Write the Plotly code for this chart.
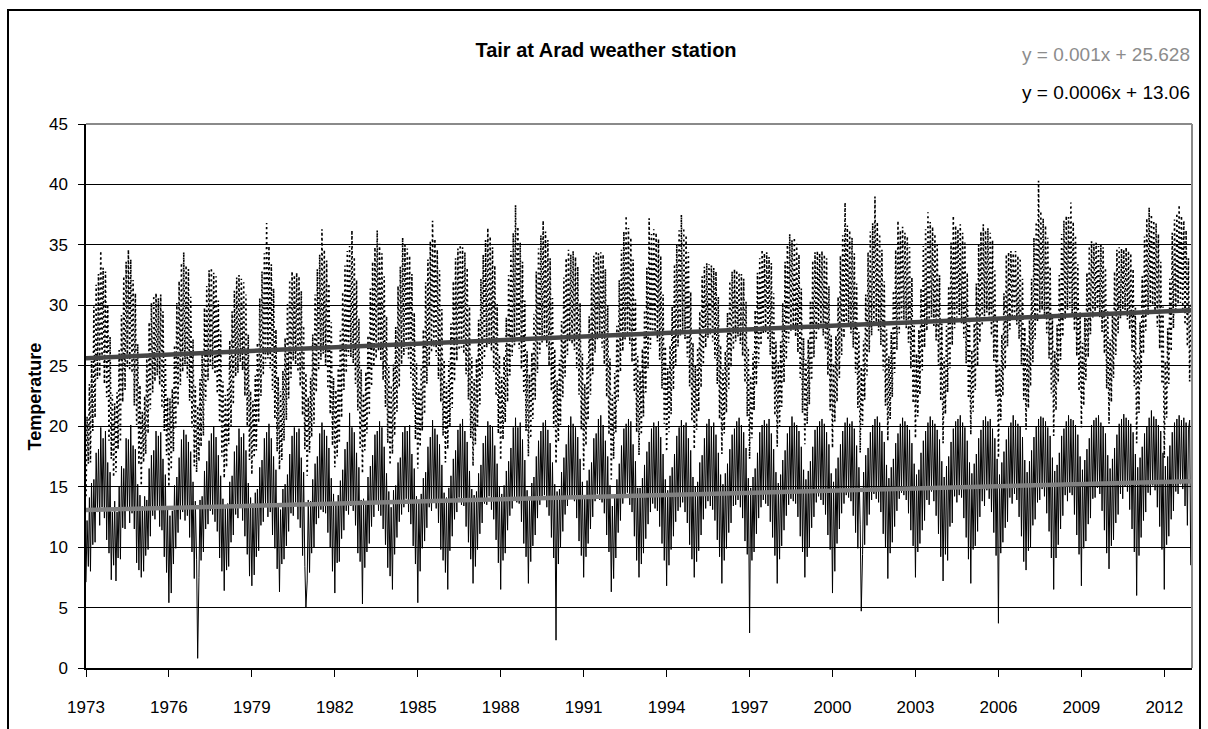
import pandas as pd
import plotly.graph_objects as go

# Half-monthly readings (1st and 15th of each month), 1973-2012, one row per year
tmax = [
 14.2, 20.8, 16.9, 23.5, 17.0, 25.4, 19.6, 29.9, 20.7, 31.7, 23.9, 32.6, 24.1, 34.5, 25.4, 33.1, 23.5, 32.8, 22.4, 30.1, 18.8, 27.4, 17.3, 22.6,
 15.8, 21.9, 16.2, 22.8, 18.1, 26.3, 18.7, 29.2, 22.0, 32.4, 23.0, 33.6, 24.9, 34.6, 24.6, 33.8, 24.4, 32.1, 21.7, 31.0, 20.1, 26.8, 16.8, 23.4,
 15.1, 21.2, 17.0, 22.5, 17.7, 25.8, 19.4, 28.6, 21.4, 30.2, 22.8, 30.8, 23.7, 31.0, 24.2, 30.6, 23.4, 30.9, 21.5, 29.5, 19.6, 26.1, 17.6, 22.4,
 15.0, 22.3, 16.4, 23.1, 17.9, 26.7, 19.9, 30.2, 21.7, 32.0, 23.4, 33.5, 24.5, 34.4, 25.1, 33.3, 24.0, 33.0, 22.1, 30.7, 19.9, 27.2, 16.7, 23.3,
 16.2, 21.7, 17.1, 23.9, 18.3, 26.0, 19.2, 29.8, 22.1, 31.6, 23.8, 32.9, 25.0, 33.1, 24.7, 32.7, 24.3, 32.4, 22.7, 30.4, 20.3, 27.9, 17.5, 23.7,
 15.7, 22.6, 16.6, 23.2, 18.5, 27.1, 20.0, 29.5, 21.8, 31.2, 24.1, 32.3, 24.4, 32.5, 25.3, 32.2, 24.6, 31.9, 22.5, 30.9, 20.0, 27.6, 17.2, 22.9,
 16.0, 22.1, 17.4, 24.2, 18.0, 26.9, 20.3, 30.6, 22.5, 32.8, 24.2, 34.3, 25.2, 36.8, 25.6, 34.9, 24.8, 33.4, 23.0, 31.4, 20.6, 28.0, 17.9, 24.1,
 16.4, 22.9, 17.2, 24.6, 18.8, 27.3, 20.5, 30.1, 22.3, 32.1, 24.0, 32.8, 25.4, 32.5, 25.1, 32.7, 24.5, 32.4, 23.3, 31.2, 20.9, 28.3, 18.1, 24.4,
 15.9, 22.4, 17.8, 24.0, 19.1, 27.6, 20.2, 30.9, 22.8, 33.0, 24.6, 34.2, 25.5, 36.3, 26.0, 34.6, 25.0, 33.7, 23.1, 31.8, 21.0, 28.6, 18.4, 24.0,
 16.6, 23.0, 17.5, 24.8, 18.6, 27.9, 20.7, 31.1, 23.0, 33.3, 24.4, 34.5, 25.8, 34.9, 25.7, 36.2, 25.2, 34.0, 23.5, 32.1, 21.3, 28.9, 18.2, 24.7,
 16.1, 22.7, 18.0, 24.5, 19.4, 27.5, 20.9, 31.4, 23.3, 33.6, 24.9, 34.8, 25.6, 36.2, 26.2, 35.1, 25.4, 34.3, 23.8, 32.4, 21.6, 29.1, 18.6, 24.9,
 16.8, 23.4, 17.7, 25.1, 19.2, 28.2, 21.2, 31.6, 23.2, 33.2, 25.1, 35.6, 25.9, 35.0, 26.4, 34.7, 25.6, 34.1, 24.0, 32.6, 21.8, 29.4, 18.9, 25.2,
 16.5, 23.1, 18.3, 24.9, 19.6, 28.0, 21.0, 31.9, 23.5, 33.8, 25.0, 35.3, 26.1, 37.0, 26.6, 35.5, 25.8, 34.6, 23.9, 32.9, 22.0, 29.7, 19.2, 25.5,
 17.0, 23.6, 18.1, 25.4, 19.9, 28.5, 21.5, 32.0, 23.7, 33.9, 25.4, 34.7, 26.3, 35.0, 26.5, 34.8, 26.0, 34.4, 24.3, 33.1, 22.2, 29.9, 19.0, 25.7,
 16.7, 23.9, 18.5, 25.6, 20.0, 28.8, 21.8, 32.2, 24.0, 34.2, 25.6, 35.4, 26.5, 36.4, 26.8, 35.7, 26.2, 34.8, 24.5, 33.3, 22.5, 30.1, 19.4, 25.9,
 17.2, 24.1, 18.9, 25.8, 20.3, 29.0, 22.0, 32.5, 24.2, 34.5, 25.8, 36.0, 26.7, 38.3, 27.0, 36.5, 26.4, 35.2, 24.7, 33.6, 22.7, 30.4, 19.6, 26.2,
 17.5, 24.3, 19.0, 26.1, 20.6, 29.3, 22.2, 32.8, 24.4, 34.7, 26.0, 35.8, 26.9, 37.0, 27.2, 36.1, 26.6, 35.4, 25.0, 33.9, 22.9, 30.6, 19.9, 26.4,
 16.9, 23.8, 18.7, 25.5, 20.1, 28.7, 22.4, 32.3, 24.1, 33.9, 25.9, 34.6, 27.0, 34.2, 26.8, 34.5, 26.3, 34.0, 24.8, 33.2, 22.6, 30.2, 19.7, 26.0,
 16.4, 23.5, 18.4, 25.2, 20.5, 29.1, 22.6, 32.6, 24.3, 34.1, 26.1, 34.5, 27.1, 34.3, 27.3, 34.4, 26.5, 34.2, 25.1, 33.0, 22.4, 30.0, 19.3, 25.6,
 15.6, 22.6, 17.3, 24.4, 19.5, 28.3, 22.1, 32.1, 24.5, 34.6, 26.2, 36.1, 27.2, 37.4, 27.5, 36.4, 26.8, 35.6, 25.3, 33.8, 22.8, 30.5, 19.5, 25.8,
 17.6, 24.6, 19.3, 26.4, 20.8, 29.6, 22.8, 33.1, 24.8, 37.2, 26.4, 35.9, 27.4, 36.3, 27.6, 36.0, 27.0, 35.5, 25.5, 34.1, 23.1, 30.9, 20.2, 26.6,
 17.9, 24.8, 19.5, 26.7, 21.0, 29.9, 23.0, 33.4, 25.0, 35.1, 26.6, 36.2, 27.5, 37.5, 27.8, 36.4, 27.2, 35.8, 25.7, 34.4, 23.3, 31.1, 20.4, 26.9,
 18.1, 25.0, 19.7, 26.5, 21.2, 29.5, 23.2, 32.4, 25.1, 33.2, 26.5, 33.5, 27.3, 33.4, 27.6, 33.3, 27.0, 33.1, 25.6, 32.8, 23.5, 30.7, 20.6, 26.7,
 17.7, 24.7, 19.4, 26.2, 21.1, 29.4, 23.1, 32.0, 24.9, 32.8, 26.3, 33.0, 27.0, 32.9, 27.4, 32.7, 26.8, 32.6, 25.8, 32.2, 23.6, 30.3, 20.8, 26.5,
 17.3, 24.2, 19.0, 26.0, 21.3, 29.6, 23.4, 32.7, 25.2, 33.9, 26.7, 34.6, 27.6, 34.3, 27.7, 34.4, 27.1, 34.0, 25.9, 33.5, 23.8, 31.0, 20.9, 27.0,
 18.3, 25.3, 20.0, 27.0, 21.6, 30.2, 23.6, 33.6, 25.5, 35.0, 26.9, 35.9, 27.9, 35.4, 28.0, 35.6, 27.4, 35.1, 26.1, 34.2, 24.0, 31.4, 21.1, 27.3,
 18.5, 25.5, 20.2, 27.2, 21.8, 30.4, 23.8, 33.7, 25.7, 34.4, 27.1, 34.5, 28.0, 34.3, 28.2, 34.5, 27.5, 34.2, 26.3, 33.9, 24.2, 31.6, 21.3, 27.5,
 18.2, 25.2, 20.4, 27.5, 22.0, 30.7, 24.0, 34.1, 25.9, 35.8, 27.3, 38.5, 28.2, 36.6, 28.4, 36.2, 27.7, 35.6, 26.5, 34.3, 24.4, 31.8, 21.5, 27.8,
 17.8, 24.9, 20.1, 27.1, 22.2, 30.9, 24.2, 34.4, 26.1, 36.1, 27.5, 36.8, 28.4, 39.0, 28.6, 36.9, 27.9, 35.9, 26.7, 34.6, 24.6, 32.0, 21.7, 28.0,
 18.8, 25.8, 20.6, 27.8, 22.4, 31.2, 24.4, 34.6, 26.3, 37.0, 27.7, 36.2, 28.6, 36.5, 28.8, 36.0, 28.1, 35.7, 26.9, 34.8, 24.8, 32.3, 21.9, 28.3,
 19.0, 26.0, 20.8, 28.0, 22.6, 31.4, 24.6, 34.9, 26.5, 36.3, 27.9, 37.7, 28.8, 36.9, 29.0, 36.5, 28.3, 35.9, 27.1, 35.0, 25.0, 32.5, 22.1, 28.5,
 18.6, 25.7, 21.0, 28.3, 22.8, 31.6, 24.8, 35.2, 26.7, 37.4, 28.1, 36.6, 29.0, 36.3, 29.2, 36.7, 28.5, 36.0, 27.3, 35.2, 25.2, 32.7, 22.3, 28.7,
 19.3, 26.3, 21.2, 28.5, 23.0, 31.8, 25.0, 35.0, 26.9, 36.1, 28.3, 36.7, 29.1, 36.2, 29.4, 36.4, 28.7, 36.0, 27.5, 35.4, 25.4, 32.9, 22.5, 28.9,
 17.4, 25.1, 20.5, 27.6, 22.5, 31.0, 24.7, 34.2, 26.6, 34.4, 28.0, 34.5, 28.9, 34.3, 29.1, 34.5, 28.4, 34.1, 27.2, 33.9, 25.1, 32.2, 22.2, 28.2,
 19.7, 26.7, 21.5, 28.8, 23.3, 32.2, 25.3, 35.6, 27.2, 36.9, 28.6, 40.3, 29.4, 37.8, 29.6, 37.2, 28.9, 36.6, 27.7, 35.6, 25.6, 33.2, 22.7, 29.2,
 19.2, 26.2, 21.3, 28.4, 23.6, 32.5, 25.5, 35.9, 27.4, 37.0, 28.8, 37.4, 29.6, 37.3, 29.8, 38.5, 29.1, 36.9, 27.9, 35.8, 25.8, 33.4, 22.9, 29.4,
 19.9, 26.9, 21.7, 29.0, 23.8, 32.7, 25.7, 34.9, 27.6, 35.3, 29.0, 35.1, 29.5, 35.2, 29.7, 34.9, 29.0, 35.0, 27.8, 34.8, 26.0, 33.1, 23.1, 29.6,
 20.2, 27.2, 22.0, 29.3, 24.0, 32.8, 25.9, 34.6, 27.7, 34.8, 28.9, 34.7, 29.4, 34.6, 29.6, 34.8, 28.8, 34.5, 28.0, 34.3, 26.2, 33.0, 23.3, 29.8,
 18.6, 25.9, 21.1, 28.6, 23.7, 32.4, 26.0, 35.7, 27.9, 37.2, 29.2, 38.1, 29.9, 37.5, 30.0, 37.0, 29.3, 36.8, 28.2, 35.9, 26.4, 33.6, 23.5, 29.9,
 17.4, 25.4, 20.7, 28.1, 23.5, 32.2, 26.2, 36.0, 28.1, 37.1, 29.4, 37.6, 30.1, 38.3, 30.2, 37.4, 29.5, 37.0, 28.4, 36.2, 26.6, 33.9, 23.7, 30.2,
]

tmin = [
 7.1, 12.2, 8.4, 14.1, 8.0, 15.3, 10.2, 15.6, 10.4, 17.8, 12.9, 18.1, 11.8, 19.9, 13.3, 19.0, 12.4, 19.6, 10.6, 17.0, 9.5, 16.2, 7.3, 12.9,
 8.5, 13.8, 7.2, 12.9, 9.1, 15.0, 9.0, 16.7, 11.6, 16.5, 11.5, 19.0, 13.2, 18.9, 12.0, 20.1, 12.8, 18.4, 11.5, 18.1, 8.7, 15.2, 8.1, 14.3,
 7.5, 13.4, 8.0, 14.2, 9.3, 13.9, 9.8, 16.5, 10.9, 17.6, 12.6, 18.0, 12.3, 19.6, 13.1, 19.2, 11.7, 19.5, 11.4, 17.3, 9.2, 16.0, 7.9, 13.1,
 5.4, 12.6, 6.2, 13.0, 8.6, 15.1, 9.9, 15.8, 11.2, 17.4, 12.3, 18.9, 12.9, 19.7, 12.2, 19.3, 12.6, 18.7, 10.8, 17.9, 9.6, 15.4, 7.4, 13.8,
 9.0, 0.8, 7.5, 13.9, 8.9, 14.2, 9.6, 16.3, 11.5, 17.1, 11.9, 18.8, 13.0, 19.4, 12.7, 20.0, 12.1, 19.1, 11.3, 17.6, 9.1, 15.9, 8.0, 14.0,
 6.4, 13.2, 8.1, 13.6, 8.4, 15.4, 10.4, 15.9, 11.0, 17.9, 12.7, 18.4, 12.4, 19.8, 13.5, 19.1, 12.2, 19.4, 10.9, 18.0, 9.4, 15.3, 7.6, 14.1,
 6.8, 13.6, 7.7, 14.5, 9.2, 14.8, 9.7, 16.6, 11.8, 17.2, 12.1, 19.0, 13.4, 19.5, 12.5, 20.2, 12.9, 19.0, 11.0, 17.5, 9.9, 16.4, 8.2, 13.5,
 6.3, 13.1, 8.6, 14.8, 9.0, 15.2, 10.1, 16.0, 11.3, 17.7, 12.8, 19.2, 12.6, 19.9, 13.7, 19.5, 12.3, 19.8, 11.6, 17.4, 9.3, 16.2, 8.4, 5.0,
 7.2, 13.9, 7.9, 13.8, 9.5, 15.6, 10.0, 16.9, 11.9, 17.5, 12.4, 19.4, 13.1, 20.3, 12.9, 19.7, 12.8, 19.2, 11.2, 18.2, 10.0, 15.7, 8.0, 14.4,
 6.2, 13.5, 8.7, 14.3, 8.8, 15.5, 10.7, 16.4, 11.4, 18.1, 13.0, 18.7, 12.7, 21.1, 13.4, 19.9, 13.0, 19.5, 11.8, 17.8, 9.5, 16.6, 8.8, 13.9,
 5.3, 14.0, 8.3, 13.7, 9.6, 15.8, 10.3, 16.7, 11.7, 17.6, 12.5, 19.3, 13.6, 19.6, 13.0, 20.4, 12.6, 19.9, 11.5, 18.3, 10.2, 16.1, 8.3, 14.6,
 7.6, 13.3, 6.5, 14.7, 9.4, 15.1, 10.8, 17.0, 12.1, 17.4, 12.7, 19.5, 13.3, 20.0, 14.0, 19.6, 12.9, 20.1, 11.9, 17.7, 10.1, 16.5, 8.6, 14.2,
 5.4, 13.8, 8.0, 14.4, 9.9, 15.7, 10.5, 16.2, 11.6, 18.3, 13.3, 19.1, 13.0, 20.5, 13.8, 19.8, 13.2, 19.3, 12.0, 18.5, 9.8, 16.8, 8.9, 14.5,
 7.9, 14.1, 6.5, 14.9, 9.7, 15.9, 10.9, 17.3, 12.3, 18.0, 12.9, 19.7, 14.1, 20.2, 13.5, 20.6, 13.4, 19.6, 11.7, 18.7, 10.4, 16.3, 9.0, 14.8,
 7.0, 14.3, 8.4, 14.6, 9.8, 16.1, 11.1, 16.8, 12.0, 18.6, 13.6, 19.2, 13.5, 20.4, 14.2, 20.1, 13.1, 20.0, 12.3, 18.4, 10.6, 16.9, 8.7, 15.0,
 6.5, 14.4, 8.9, 15.1, 9.5, 16.3, 11.4, 17.1, 12.6, 18.2, 13.2, 19.9, 14.0, 20.7, 13.7, 19.9, 13.6, 20.3, 12.1, 18.9, 10.3, 17.2, 9.2, 14.7,
 7.0, 14.0, 8.8, 15.3, 10.1, 15.8, 11.0, 17.5, 12.4, 18.8, 13.5, 19.6, 13.9, 20.3, 14.3, 20.5, 13.3, 19.7, 12.6, 18.6, 10.8, 17.0, 9.1, 15.2,
 2.3, 14.6, 8.6, 14.8, 10.0, 16.2, 11.3, 17.4, 12.7, 18.5, 13.4, 20.1, 14.2, 20.8, 14.0, 20.2, 13.8, 19.9, 12.4, 19.1, 10.5, 17.3, 9.3, 15.4,
 7.5, 14.2, 9.2, 15.5, 10.3, 16.4, 11.5, 17.0, 12.5, 19.0, 13.8, 19.4, 14.4, 20.6, 13.9, 20.9, 13.7, 20.1, 12.8, 18.8, 11.0, 17.5, 9.6, 15.1,
 6.3, 13.4, 7.4, 14.2, 9.1, 15.6, 11.2, 16.9, 12.2, 18.4, 13.6, 19.8, 14.1, 20.2, 14.5, 20.6, 13.5, 20.4, 12.9, 18.5, 10.9, 17.1, 8.9, 14.9,
 7.5, 14.9, 8.6, 15.7, 9.5, 16.8, 10.7, 17.9, 11.9, 18.7, 12.9, 19.8, 13.6, 20.3, 13.2, 20.0, 13.0, 20.4, 11.7, 19.1, 10.3, 17.7, 8.9, 15.6,
 6.8, 14.7, 8.5, 15.9, 9.8, 16.6, 10.9, 17.7, 12.1, 19.2, 13.0, 19.9, 13.3, 20.5, 13.7, 20.1, 12.9, 20.3, 12.0, 19.0, 10.2, 18.0, 9.0, 15.8,
 7.5, 15.0, 8.8, 15.4, 9.7, 17.0, 11.0, 17.6, 12.3, 19.0, 13.2, 20.2, 13.8, 20.6, 13.4, 20.0, 13.1, 20.3, 12.2, 19.3, 10.6, 17.8, 9.2, 16.0,
 7.0, 15.2, 8.9, 16.1, 9.9, 16.9, 11.2, 18.1, 12.0, 19.3, 13.4, 19.8, 13.5, 20.4, 13.9, 20.7, 13.3, 20.1, 12.4, 19.5, 10.5, 18.2, 9.4, 15.7,
 2.9, 14.9, 8.9, 15.8, 9.6, 16.5, 11.1, 17.8, 12.4, 19.5, 13.3, 20.1, 13.9, 20.5, 13.6, 20.2, 13.4, 20.6, 12.1, 19.4, 10.8, 18.1, 9.3, 16.2,
 7.0, 15.3, 9.0, 16.0, 10.1, 17.2, 11.4, 18.0, 12.6, 19.4, 13.5, 20.0, 14.0, 20.8, 13.8, 20.3, 13.6, 20.1, 12.5, 19.6, 10.9, 18.3, 9.6, 16.4,
 7.5, 15.6, 9.2, 16.3, 10.0, 17.1, 11.6, 18.3, 12.5, 19.7, 13.7, 20.0, 14.2, 20.4, 13.9, 20.6, 13.5, 20.2, 12.7, 19.5, 11.0, 18.5, 9.8, 16.1,
 6.2, 15.4, 8.0, 16.5, 10.3, 17.4, 11.5, 18.5, 12.8, 19.6, 13.6, 20.3, 14.3, 20.7, 14.1, 20.2, 13.8, 20.4, 12.6, 19.8, 11.2, 18.4, 9.9, 16.6,
 11.9, 4.7, 9.4, 16.2, 10.2, 17.6, 11.8, 18.2, 12.7, 19.5, 13.9, 20.1, 14.4, 20.6, 14.0, 20.8, 13.7, 20.3, 12.9, 19.6, 11.1, 18.7, 10.0, 16.8,
 7.4, 15.7, 9.5, 16.6, 10.4, 17.3, 11.7, 18.6, 13.0, 19.4, 14.0, 20.2, 14.5, 20.7, 14.3, 20.4, 13.9, 20.1, 12.8, 19.7, 11.4, 18.6, 10.1, 16.9,
 7.5, 16.0, 9.6, 16.4, 10.3, 17.8, 11.4, 18.8, 12.2, 19.6, 13.9, 20.3, 13.5, 20.8, 14.6, 20.5, 13.8, 20.2, 12.6, 19.7, 11.1, 18.9, 9.2, 17.1,
 7.2, 15.8, 9.4, 16.7, 8.9, 17.5, 11.7, 18.7, 12.0, 19.8, 14.2, 20.4, 13.7, 20.6, 14.3, 20.9, 14.1, 20.3, 12.4, 19.9, 10.8, 18.8, 9.0, 17.0,
 7.0, 16.1, 9.8, 16.9, 10.1, 17.7, 11.3, 19.0, 12.5, 19.7, 13.8, 20.5, 13.4, 20.8, 14.7, 20.4, 14.0, 20.6, 12.9, 19.8, 11.2, 19.0, 9.3, 17.3,
 3.7, 16.0, 9.5, 17.0, 10.4, 17.9, 11.6, 18.9, 12.1, 19.9, 14.1, 20.3, 13.6, 20.9, 14.4, 20.5, 13.9, 20.2, 12.5, 20.0, 10.9, 19.1, 8.8, 17.2,
 8.1, 16.2, 9.7, 17.1, 10.0, 18.0, 11.8, 19.1, 12.3, 20.0, 13.7, 20.6, 13.9, 20.8, 14.8, 20.7, 14.2, 20.4, 12.8, 19.9, 11.3, 19.2, 9.1, 17.4,
 6.5, 16.3, 9.1, 16.8, 10.2, 17.8, 11.5, 19.2, 12.6, 19.8, 14.3, 20.4, 13.8, 20.9, 14.5, 20.6, 14.3, 20.5, 12.7, 20.1, 11.0, 19.3, 9.4, 17.5,
 6.8, 16.4, 9.9, 17.2, 10.5, 18.1, 11.9, 19.0, 12.4, 20.1, 14.0, 20.5, 14.1, 20.7, 14.9, 20.9, 14.4, 20.3, 13.0, 20.0, 11.4, 19.4, 9.5, 17.6,
 8.2, 16.5, 10.1, 17.3, 10.6, 18.2, 12.0, 19.3, 12.7, 20.2, 14.4, 20.6, 14.0, 21.0, 15.0, 20.7, 14.6, 20.5, 13.1, 20.2, 11.5, 19.5, 9.6, 17.7,
 6.0, 16.6, 9.3, 17.4, 10.8, 18.3, 12.2, 19.4, 12.9, 20.0, 14.5, 20.7, 14.3, 21.3, 15.1, 20.8, 14.7, 20.6, 13.3, 20.1, 11.7, 19.6, 9.8, 17.8,
 6.5, 16.7, 10.2, 17.5, 10.9, 18.4, 12.3, 19.5, 13.0, 20.3, 14.6, 20.6, 14.4, 20.9, 15.2, 20.5, 14.8, 20.7, 13.4, 20.3, 11.8, 19.7, 20.5, 8.5,
]

trend_dates = ["1973-01-01", "2012-12-31"]
trend_upper = [25.63, 29.6]
trend_lower = [13.06, 15.45]

tick_years = [1973, 1976, 1979, 1982, 1985, 1988, 1991, 1994, 1997, 2000, 2003, 2006, 2009, 2012]
eq_upper = "y = 0.001x + 25.628"
eq_lower = "y = 0.0006x + 13.06"
title_text = "Tair at Arad weather station"
ytitle = "Temperature"

dates_max = pd.date_range("1973-01-01", periods=len(tmax), freq="SMS")
dates_min = pd.date_range("1973-01-01", periods=len(tmin), freq="SMS")

FONT = "Liberation Sans, Arial, sans-serif"

fig = go.Figure()
fig.add_trace(go.Scatter(x=dates_max, y=tmax, mode="lines",
                         line=dict(color="black", width=1.6, dash="2px,3px"),
                         showlegend=False, hoverinfo="skip"))
fig.add_trace(go.Scatter(x=dates_min, y=tmin, mode="lines",
                         line=dict(color="black", width=1),
                         showlegend=False, hoverinfo="skip"))
fig.add_trace(go.Scatter(x=trend_dates, y=trend_upper, mode="lines",
                         line=dict(color="#454545", width=4.5),
                         showlegend=False, hoverinfo="skip"))
fig.add_trace(go.Scatter(x=trend_dates, y=trend_lower, mode="lines",
                         line=dict(color="#808080", width=4.5),
                         showlegend=False, hoverinfo="skip"))

W, H = 1208, 729
L, R, T, B = 86, 16, 124, 61
pw, ph = W - L - R, H - T - B

fig.update_layout(
    width=W, height=H,
    margin=dict(l=L, r=R, t=T, b=B, pad=0),
    paper_bgcolor="white", plot_bgcolor="white",
    title=dict(text=title_text, x=606 / W, xref="container", xanchor="center",
               y=1 - 50 / H, yref="container", yanchor="middle",
               font=dict(family=FONT, size=20, color="black", weight="bold")),
    xaxis=dict(type="date", range=["1973-01-01", "2013-01-01"],
               tickvals=[f"{y}-01-01" for y in tick_years],
               ticktext=[str(y) for y in tick_years],
               ticks="outside", ticklen=7, tickwidth=1.3, tickcolor="black",
               ticklabelstandoff=16,
               showgrid=False, zeroline=False,
               showline=True, linecolor="black", linewidth=1.5,
               tickfont=dict(family=FONT, size=17, color="black")),
    yaxis=dict(range=[0, 45], dtick=5, tick0=0,
               ticks="outside", ticklen=6, tickwidth=1.3, tickcolor="black",
               ticklabelstandoff=7,
               showgrid=True, gridcolor="black", gridwidth=1,
               zeroline=False,
               showline=True, linecolor="black", linewidth=1.5,
               tickfont=dict(family=FONT, size=17, color="black")),
)

# plot-area frame (grey top and right edges)
fig.add_shape(type="line", xref="paper", yref="paper", x0=0, x1=1, y0=1, y1=1,
              line=dict(color="#8a8a8a", width=2), layer="above")
fig.add_shape(type="line", xref="paper", yref="paper", x0=1, x1=1, y0=0, y1=1,
              line=dict(color="#8a8a8a", width=2), layer="above")
# outer chart border
fig.add_shape(type="rect", xref="paper", yref="paper",
              x0=(8 - L) / pw, x1=(1200 - L) / pw,
              y0=-(B + 20) / ph, y1=(H - B - 10) / ph,
              line=dict(color="black", width=2), fillcolor="rgba(0,0,0,0)", layer="above")

fig.add_annotation(text=eq_upper, xref="paper", yref="paper", x=1, y=(ph + T - 55) / ph,
                   xanchor="right", yanchor="middle", showarrow=False,
                   font=dict(family=FONT, size=19, color="#8c8c8c"))
fig.add_annotation(text=eq_lower, xref="paper", yref="paper", x=1, y=(ph + T - 92) / ph,
                   xanchor="right", yanchor="middle", showarrow=False,
                   font=dict(family=FONT, size=19, color="black"))
fig.add_annotation(text=ytitle, xref="paper", yref="paper", x=(34.5 - L) / pw, y=0.5,
                   xanchor="center", yanchor="middle", textangle=-90, showarrow=False,
                   font=dict(family=FONT, size=18, color="black", weight="bold"))

fig.write_html("out.html")
